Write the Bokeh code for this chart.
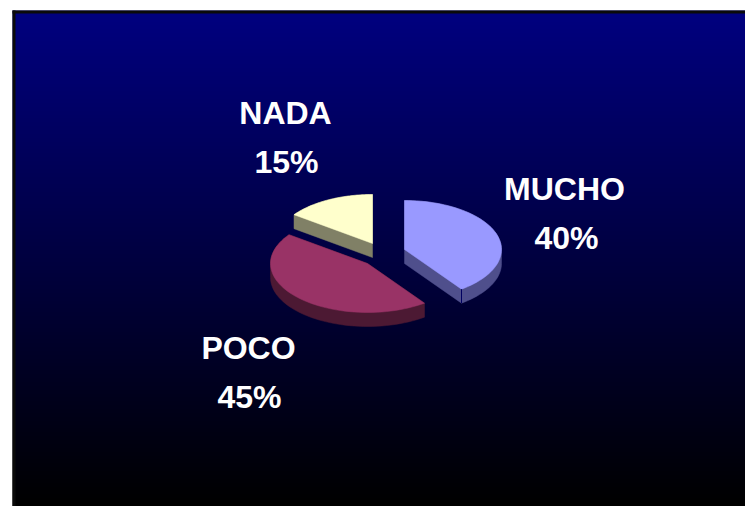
import numpy as np
from bokeh.plotting import figure
from bokeh.models import Range1d
from bokeh.core.properties import value
from bokeh.embed import file_html
from bokeh.resources import INLINE

categories = ["MUCHO", "POCO", "NADA"]
shares = [40, 45, 15]
top_colors = ["#9999FF", "#993366", "#FFFFCC"]
side_colors = ["#4F4F8C", "#4C1933", "#808066"]
apexes = [(404, 249), (367, 263), (372, 243)]
label_pos = [(564, 188), (248, 347), (285, 112)]
value_pos = [(566, 237), (249, 396), (286, 161)]

A, B, DEPTH = 97, 49, 14
W, H = 745, 506

def Y(py):
    return H - py

def hull(points):
    pts = sorted(set(points))
    def half(seq):
        out = []
        for q in seq:
            while len(out) > 1 and (out[-1][0]-out[-2][0])*(q[1]-out[-2][1]) - (out[-1][1]-out[-2][1])*(q[0]-out[-2][0]) <= 0:
                out.pop()
            out.append(q)
        return out[:-1]
    return half(pts) + half(pts[::-1])

p = figure(width=W, height=H, x_range=Range1d(0, W), y_range=Range1d(0, H),
           output_backend="svg", toolbar_location=None, min_border=0,
           background_fill_color="white", border_fill_color="white",
           outline_line_color=None)
p.axis.visible = False
p.grid.visible = False

# background gradient and frame
rows = 256
t = np.linspace(0, 1, rows)
img = np.zeros((rows, 1, 4), dtype=np.uint8)
img[:, 0, 2] = (t * 128).astype(np.uint8)
img[:, 0, 3] = 255
p.image_rgba(image=[img.view(np.uint32).reshape(rows, 1)], x=12, y=0, dw=733, dh=Y(10))
p.quad(left=[12, 12], right=[15, 745], top=[Y(10), Y(10)], bottom=[0, Y(13)], color="#0A0A0A", line_color=None)

# slices
fracs = np.array(shares) / sum(shares)
starts = np.concatenate([[0], np.cumsum(fracs)[:-1]]) * 2 * np.pi
ends = np.cumsum(fracs) * 2 * np.pi
for i in [2, 1, 0]:
    th = np.linspace(starts[i], ends[i], 60)
    cx, cy = apexes[i]
    xs = np.concatenate([[cx], cx + A * np.sin(th)])
    ys = np.concatenate([[cy], cy - B * np.cos(th)])
    swept = hull([(float(a), float(b)) for a, b in zip(xs, ys)] +
                 [(float(a), float(b + DEPTH)) for a, b in zip(xs, ys)])
    p.patch([q[0] for q in swept], [Y(q[1]) for q in swept],
            fill_color=side_colors[i], line_color=side_colors[i], line_width=0.5)
    p.patch(xs, Y(ys), fill_color=top_colors[i], line_color=top_colors[i], line_width=0.5)
    if i == 0:
        p.line([xs[-1], xs[-1]], [Y(ys[-1]), Y(ys[-1] + DEPTH)], line_color="#000060", line_width=1)

# labels
font = value("Liberation Sans")
for i, c in enumerate(categories):
    p.text(x=[label_pos[i][0]], y=[Y(label_pos[i][1])], text=[c], text_color="white",
           text_font=font, text_font_style="bold", text_font_size="32px",
           text_align="center", text_baseline="alphabetic")
    p.text(x=[value_pos[i][0]], y=[Y(value_pos[i][1])], text=[f"{shares[i]}%"], text_color="white",
           text_font=font, text_font_style="bold", text_font_size="32px",
           text_align="center", text_baseline="alphabetic")

open("out.html", "w").write(file_html(p, INLINE))
